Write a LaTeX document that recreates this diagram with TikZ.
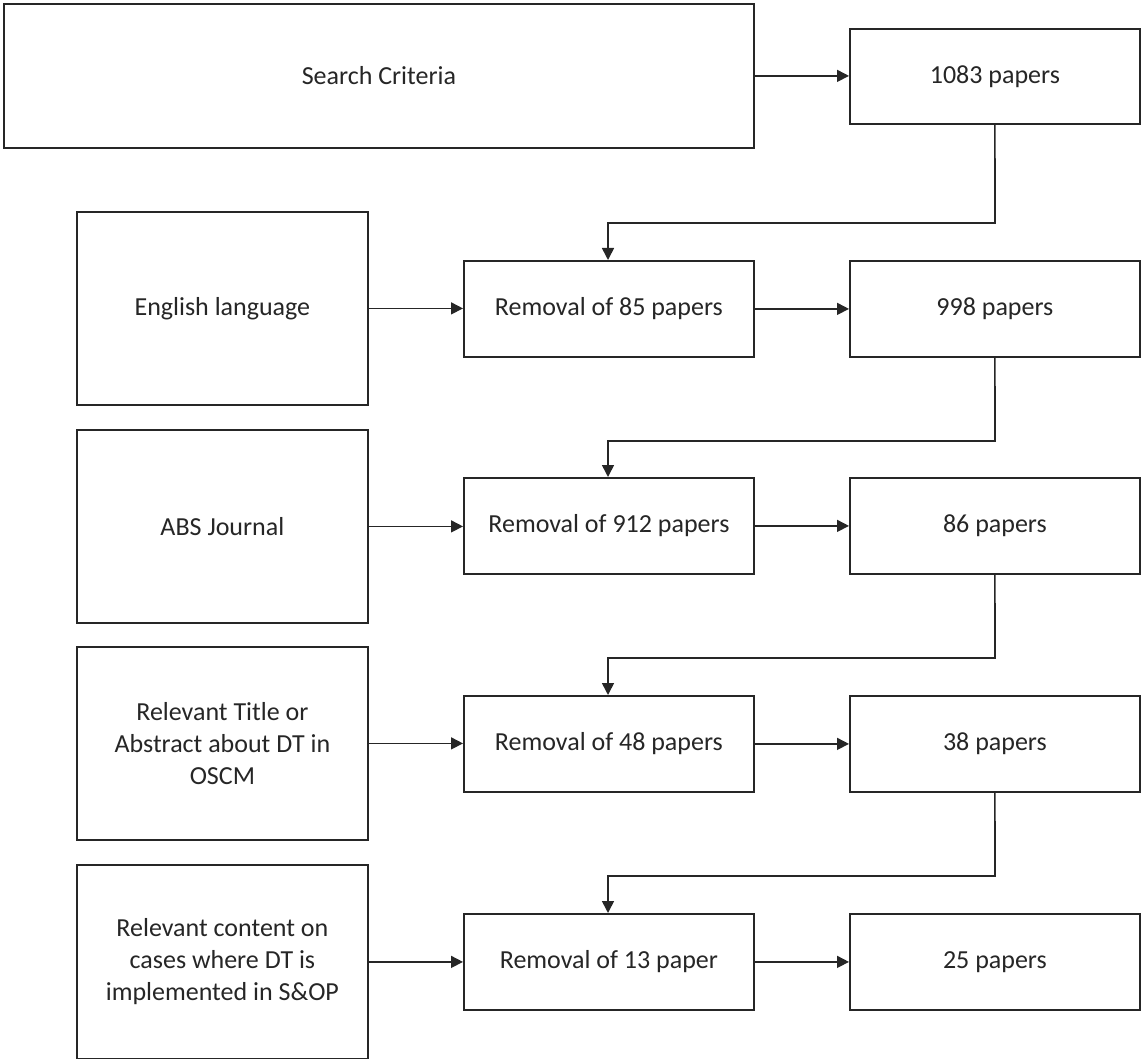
\documentclass[tikz,border=0pt]{standalone}
\usepackage{fontspec}
\setmainfont{Carlito}
\usetikzlibrary{arrows.meta}
\begin{document}
\begin{tikzpicture}[x=1pt,y=-1pt,
  box/.style={draw=black!85, line width=1.8pt, fill=white, inner sep=0pt,
    align=center, anchor=north west,
    font=\fontsize{26}{32}\selectfont, text=black!85},
  wide/.style={box, minimum width=750pt, minimum height=144pt},
  crit/.style={box, minimum width=291pt, minimum height=193pt},
  stepbox/.style={box, minimum width=290pt, minimum height=96pt},
  arr/.style={draw=black!85, line width=1.6pt, -{Triangle[length=12pt,width=12pt]}}]
\useasboundingbox (0,0) rectangle (1142,1059);

% top row
\node[wide] (sc) at (3,3) {Search Criteria};
\node[stepbox, minimum height=95pt] (p1083) at (849,28) {1083 papers};

% criteria column
\node[crit] (c1) at (76,211) {English language};
\node[crit] (c2) at (76,429) {ABS Journal};
\node[crit] (c3) at (76,646) {Relevant Title or\\Abstract about DT in\\OSCM};
\node[crit, minimum height=194pt] (c4) at (76,864) {Relevant content on\\cases where DT is\\implemented in S\&OP};

% removal column
\node[stepbox] (r1) at (463,260) {Removal of 85 papers};
\node[stepbox] (r2) at (463,477) {Removal of 912 papers};
\node[stepbox] (r3) at (463,695) {Removal of 48 papers};
\node[stepbox] (r4) at (463,913) {Removal of 13 paper};

% result column
\node[stepbox] (p1) at (849,260) {998 papers};
\node[stepbox] (p2) at (849,477) {86 papers};
\node[stepbox] (p3) at (849,695) {38 papers};
\node[stepbox] (p4) at (849,913) {25 papers};

% horizontal arrows
\draw[arr] (sc.east) -- (sc.east -| p1083.west);
\foreach \i in {1,...,4}{
  \draw[arr] (c\i.east) -- (c\i.east -| r\i.west);
  \draw[arr] (r\i.east) -- (p\i.west);
}

% elbow connectors from each result down to the next removal step
\coordinate (b1) at (995,223);
\coordinate (b2) at (995,441);
\coordinate (b3) at (995,658);
\coordinate (b4) at (995,876);
\draw[arr] (p1083.south) -- (b1) -| ([xshift=145pt]r1.north west);
\draw[arr] (p1.south) -- (b2) -| ([xshift=145pt]r2.north west);
\draw[arr] (p2.south) -- (b3) -| ([xshift=145pt]r3.north west);
\draw[arr] (p3.south) -- (b4) -| ([xshift=145pt]r4.north west);
\end{tikzpicture}
\end{document}
